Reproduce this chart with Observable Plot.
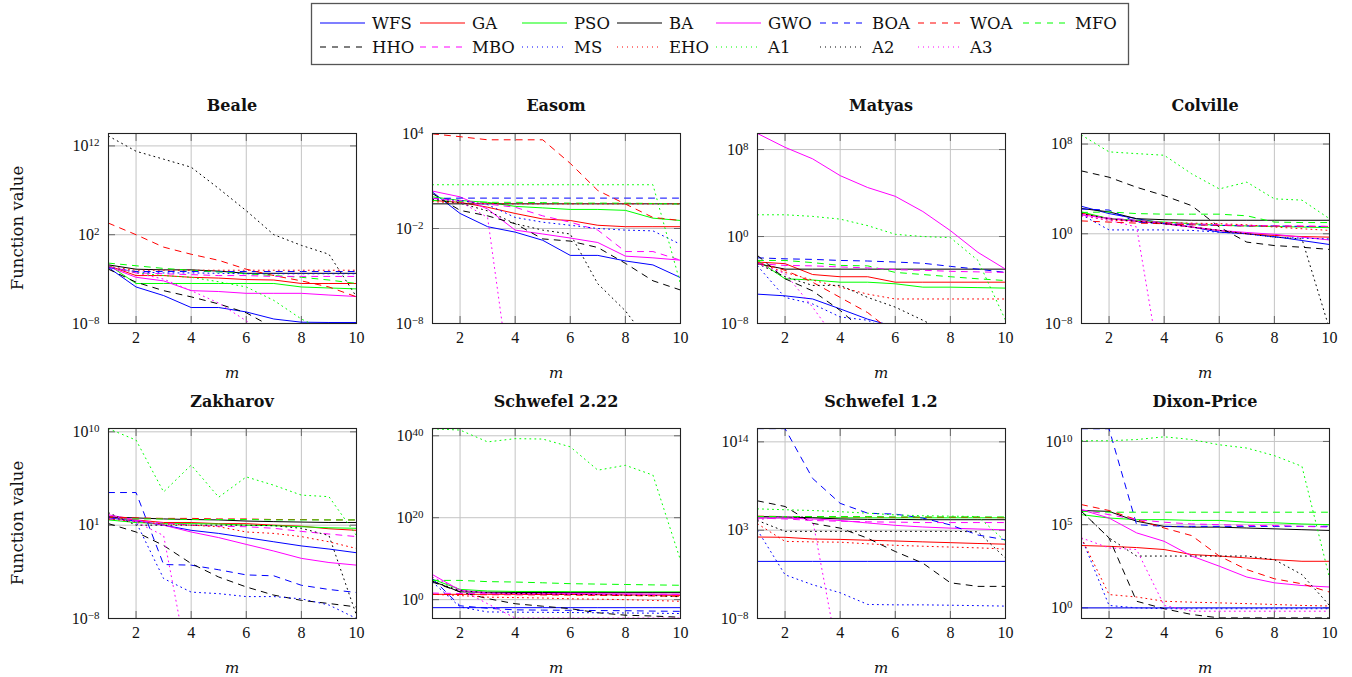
<!DOCTYPE html>
<html><head><meta charset="utf-8">
<script src="https://cdn.jsdelivr.net/npm/d3@7"></script>
<script src="https://cdn.jsdelivr.net/npm/@observablehq/plot@0.6"></script>
<style>
body{margin:0;background:#fff;}
#chart{position:relative;width:1352px;height:677px;overflow:hidden;font-family:"DejaVu Serif",serif;color:#111;}
#chart svg.panel{position:absolute;}
.title{position:absolute;font-weight:bold;font-size:16px;transform:translate(-50%,-50%);white-space:nowrap;}
.xlab{position:absolute;font-style:italic;font-size:15px;transform:translate(-50%,-50%);}
.ylab{position:absolute;font-size:16.5px;transform:translate(-50%,-50%) rotate(-90deg);white-space:nowrap;}
</style></head><body><div id="chart"></div>
<script>
// ---------------- data ----------------
const m = [1, 2, 3, 4, 5, 6, 7, 8, 9, 10];
const algorithms = ["WFS","GA","PSO","BA","GWO","BOA","WOA","MFO","HHO","MBO","MS","EHO","A1","A2","A3"];
const xTicks = [2, 4, 6, 8, 10];

// each panel: one array per algorithm, in the order of `algorithms`
const beale = [
  [2e-2,1.3e-4,1.4e-5,6.3e-7,6.3e-7,2e-7,3.2e-8,1.4e-8,1.3e-8,1.3e-8],
  [3.2e-2,2.5e-3,2.5e-3,1.6e-3,1.3e-3,8.9e-4,7.9e-4,3.2e-4,3.2e-4,3.2e-4],
  [4e-2,3.2e-4,3.2e-4,3.2e-4,3.2e-4,3.2e-4,3.2e-4,1.3e-4,1e-4,7.9e-5],
  [4e-2,1.3e-2,1.1e-2,1.1e-2,7.9e-3,4.5e-3,4.5e-3,4.5e-3,4.5e-3,4.5e-3],
  [2.5e-2,1.6e-3,6.3e-4,5e-5,4e-5,2.5e-5,2.5e-5,2.5e-5,1.6e-5,1.1e-5],
  [2e-2,7.1e-3,7.1e-3,7.1e-3,7.1e-3,7.1e-3,7.1e-3,7.1e-3,7.1e-3,7.1e-3],
  [2e3,1e2,4,0.63,0.13,1.3e-2,2.5e-3,6.3e-4,1.3e-4,1e-5],
  [6.3e-2,3.2e-2,1.6e-2,1e-2,6.3e-3,4e-3,2.5e-3,1.6e-3,7.9e-4,3.2e-4],
  [1.3e-2,4.5e-4,5e-5,1e-5,1.6e-6,1.6e-7,3.2e-9,1e-9,1e-9,1e-9],
  [2.5e-2,5e-3,4e-3,3.2e-3,2.5e-3,2.5e-3,2e-3,2e-3,2e-3,2e-3],
  [2.5e-2,6.3e-3,5e-3,5e-3,4.5e-3,4e-3,4e-3,4e-3,4e-3,4e-3],
  [2.5e-2,1e-2,1e-2,1e-2,1e-2,1e-2,1e-2,1e-2,1e-2,1e-2],
  [3.2e-2,5e-3,2.5e-3,1.6e-3,5e-4,1.3e-4,4e-6,3.2e-8,1e-9,1e-9],
  [1.3e13,2.5e11,3.2e10,4e9,1.6e7,5e4,1e2,6.3,0.63,1e-5],
  [3.2e-2,5e-3,1e-3,5e-5,2e-6,2e-8,1e-10,1e-10,1e-10,1e-10]
];
const easom = [
  [2,8.9e-2,1.3e-2,5.9e-3,1.8e-3,2e-4,2e-4,8.9e-5,5e-5,7.9e-6],
  [0.59,0.45,0.22,8.9e-2,4e-2,3.2e-2,1.6e-2,1.3e-2,1.3e-2,1.3e-2],
  [1,0.59,0.45,0.25,0.2,0.16,0.16,0.14,4.5e-2,3.2e-2],
  [0.36,0.36,0.36,0.36,0.36,0.36,0.36,0.36,0.36,0.36],
  [2.3,1,0.17,7.9e-3,4.5e-3,2.5e-3,1.3e-3,1.8e-4,1.4e-4,1e-4],
  [0.79,0.83,0.83,0.83,0.83,0.83,0.83,0.83,0.83,0.83],
  [9.5e3,6.3e3,4e3,4e3,4e3,1.3e2,2.5,0.35,5e-2,3.2e-2],
  [0.59,0.5,0.45,0.45,0.43,0.4,0.4,0.4,0.38,0.35],
  [1.6,0.14,6.3e-2,2e-2,2.2e-3,1.6e-3,6.3e-4,6.3e-5,5e-6,1.3e-6],
  [0.79,0.59,0.35,0.22,6.3e-2,2.5e-2,7.9e-3,3.5e-4,3.5e-4,1e-4],
  [0.71,0.59,0.32,5e-2,2.5e-2,1.6e-2,1e-2,7.9e-3,7.1e-3,1e-3],
  [0.5,0.4,0.38,0.36,0.36,0.36,0.36,0.36,0.36,0.36],
  [5.8,5.8,5.8,5.8,5.8,5.8,5.8,5.8,5.8,3.2e-6],
  [0.71,0.4,0.13,2e-2,7.9e-3,4.5e-3,3.2e-6,6.3e-8,3.2e-10,1e-10],
  [0.79,0.5,5e-2,1e-14,1e-14,1e-14,1e-14,1e-14,1e-14,1e-14]
];
const matyas = [
  [5e-6,3.5e-6,1.8e-6,2.2e-7,2.5e-8,5e-9,1e-9,1e-9,1e-9,1e-9],
  [4.5e-3,3.2e-3,3.2e-4,2e-4,2e-4,6.3e-5,6.3e-5,6.3e-5,6.3e-5,6.3e-5],
  [6.3e-3,1.3e-4,1e-4,6.3e-5,6.3e-5,4.5e-5,2.2e-5,2.2e-5,2e-5,1.8e-5],
  [3.2e-3,1e-3,1e-3,1e-3,1e-3,1e-3,1e-3,1e-3,1e-3,1e-3],
  [3e9,1.6e8,1.4e7,4e5,3.2e4,5e3,2e2,3.5,3.5e-2,1e-3],
  [1.1e-2,8.9e-3,7.9e-3,6.3e-3,5.6e-3,4.5e-3,3.5e-3,1.8e-3,1e-3,5e-4],
  [4e-3,7.9e-4,6.3e-5,2.5e-6,1e-7,1e-9,1e-10,1e-10,1e-10,1e-10],
  [6.3e-3,6.3e-3,4e-3,2.2e-3,2e-3,5e-4,3.2e-4,2e-4,1.3e-4,8.9e-5],
  [1.8e-2,1.3e-4,1e-5,1.6e-7,1e-9,1e-10,1e-10,1e-10,1e-10,1e-10],
  [3.2e-3,2.2e-3,2e-3,1.6e-3,1.3e-3,8.9e-4,7.9e-4,6.3e-4,5.6e-4,5e-4],
  [2e-3,2.5e-6,6.3e-7,4e-8,2e-8,1e-9,1e-10,1e-10,1e-10,1e-10],
  [4e-3,5e-4,1e-4,2.2e-5,5e-6,1.8e-6,1.8e-6,1.8e-6,1.8e-6,1.8e-6],
  [100,100,71,40,10,1.6,1,0.79,6.3e-3,2e-8],
  [3.2e-3,2e-4,3.2e-5,3.2e-5,2.5e-6,3.2e-7,2e-8,1e-9,1e-10,1e-10],
  [3.2e-3,4e-4,3.2e-7,1e-10,1e-10,1e-10,1e-10,1e-10,1e-10,1e-10]
];
const colville = [
  [280,63,22,8.9,4,1.4,1,0.56,0.25,0.11],
  [71,22,13,7.9,4,2,1,0.71,0.56,0.5],
  [89,22,16,11,7.9,5.6,5,4.5,4,3.5],
  [180,89,22,18,16,16,16,16,16,16],
  [50,22,13,7.9,4,2,1.3,0.89,0.5,0.28],
  [160,130,11,7.9,6.3,5.6,5,5,4.5,4.5],
  [14,11,8.9,7.9,6.3,5.6,5,5,4.5,4.5],
  [79,89,63,56,56,56,40,11,10,10],
  [4e5,1.1e5,1.4e4,2.5e3,320,4,0.18,8.9e-2,6.3e-2,4e-2],
  [50,25,16,10,7.9,6.3,5.6,5,5,4.5],
  [50,2.2,2.2,2.2,2,1.4,1,0.5,0.4,0.35],
  [40,16,13,10,8.9,7.9,6.3,4,2.8,2],
  [6.3e8,2e7,1.4e7,1e7,2.2e5,1e4,4e4,1.3e3,1e3,22],
  [63,22,13,7.9,4,2,1,0.5,0.35,3.2e-9],
  [40,16,4,1e-14,1e-14,1e-14,1e-14,1e-14,1e-14,1e-14]
];
const zakharov = [
  [50,25,10,3.2,1.6,0.63,0.25,0.1,5e-2,2.2e-2],
  [63,32,18,18,14,14,10,7.9,4.5,3.2],
  [32,18,14,14,13,10,8.9,7.1,5.6,5],
  [63,50,40,35,32,25,22,20,18,18],
  [100,32,10,2.2,0.63,0.14,3.2e-2,6.3e-3,2.5e-3,1.4e-3],
  [1.4e4,1.4e4,1.6e-3,1.4e-3,5e-4,1.6e-4,1.3e-4,1.6e-5,6.3e-6,3.2e-6],
  [63,50,45,45,40,40,35,35,32,32],
  [35,40,40,35,35,35,32,32,32,32],
  [14,2.2,0.11,2e-3,1e-4,1.1e-5,1.8e-6,5.6e-7,2.8e-7,1.3e-7],
  [40,25,16,10,7.9,7.1,5,2.5,1.4,0.79],
  [63,20,7.1e-5,3.5e-6,2.5e-6,1.3e-6,1.3e-6,7.9e-7,2e-7,1e-8],
  [40,22,13,10,7.1,2.2,1.6,0.79,0.25,5.6e-2],
  [2e10,1.6e9,1.6e4,6.3e6,5e3,4.5e5,7.1e4,7.9e3,5.6e3,1],
  [160,10,10,10,10,10,8.9,5,1,2e-8],
  [100,20,1,1e-14,1e-14,1e-14,1e-14,1e-14,1e-14,1e-14]
];
const schwefel222 = [
  [1.1e-2,1.1e-2,1.1e-2,1.1e-2,1.1e-2,1.1e-2,1.1e-2,1.1e-2,1.1e-2,1.1e-2],
  [20,20,20,20,18,18,16,14,13,11],
  [1e5,320,130,100,100,89,89,79,79,79],
  [3.2e4,79,63,56,56,50,50,50,50,50],
  [1.3e6,200,40,32,32,32,28,25,22,20],
  [1.3e5,3.2e-2,7.9e-3,3.2e-3,2.8e-3,2.5e-3,2.2e-3,2e-3,1.6e-3,1.4e-3],
  [20,18,16,16,14,13,11,10,7.9,6.3],
  [5e4,5e4,2.5e4,2e4,1.3e4,7.9e3,6.3e3,5e3,4e3,3.2e3],
  [2e4,79,1.8,0.1,2.5e-2,6.3e-3,6.3e-4,1.6e-4,1e-4,5e-5],
  [40,32,28,25,25,22,22,20,20,20],
  [2e4,1.6e-2,1e-3,8.9e-4,7.9e-4,7.1e-4,6.3e-4,5.6e-4,5e-4,4e-4],
  [20,10,4,3.2,2.5,1.6,1.3,1,0.63,0.4],
  [5e41,2.5e41,3.2e38,2e39,1.6e39,2e37,4e31,6.3e32,2.5e30,4e9],
  [3.2e4,160,50,32,25,20,16,13,10,5],
  [3.2e5,320,0.1,3.2e-5,3.2e-5,3.2e-5,3.2e-5,3.2e-5,3.2e-5,3.2e-5]
];
const schwefel12 = [
  [0.13,0.13,0.13,0.13,0.13,0.13,0.13,0.13,0.13,0.13],
  [140,130,79,71,56,45,35,28,22,18],
  [3.5e4,3.5e4,3.5e4,3.5e4,3.5e4,3.5e4,3.5e4,3.5e4,3.5e4,3.5e4],
  [5e4,4.5e4,3.5e4,2.5e4,2.2e4,2.2e4,2e4,2e4,2e4,2e4],
  [3.5e4,3.2e4,2.5e4,1.6e4,7.9e3,4e3,2.5e3,1.8e3,1.4e3,1.1e3],
  [4.4e15,4.4e15,2.8e9,2.2e6,1.3e5,1e5,3.2e4,4.5e3,250,63],
  [5.6e4,5e4,5e4,4.5e4,4.5e4,4e4,4e4,4e4,4e4,3.5e4],
  [5e4,5e4,5e4,5e4,5e4,4.5e4,4.5e4,4.5e4,4.5e4,4.5e4],
  [4.5e6,8.9e5,7.1e3,1.8e3,100,2.2,7.9e-2,2.8e-4,1e-4,1e-4],
  [3.2e4,2.5e4,1.6e4,1.3e4,1.1e4,1e4,8.9e3,8.9e3,8.9e3,8.9e3],
  [1e3,2.8e-3,1.6e-4,1.6e-5,5.6e-7,5e-7,5e-7,4.5e-7,4e-7,3.5e-7],
  [6.3e3,40,35,32,20,13,10,7.9,6.3,4.5],
  [4.5e5,3.5e5,2.8e5,2e5,1.3e5,7.9e4,6.3e4,5.6e4,5e4,40],
  [1.6e4,710,710,710,710,710,710,710,630,0.32],
  [2e4,5e4,2e4,1e-14,1e-14,1e-14,1e-14,1e-14,1e-14,1e-14]
];
const dixonPrice = [
  [1,1,1,1,1,1,1,1,1,1],
  [5.6e3,5e3,4.2e3,3.2e3,1.6e3,1.3e3,1e3,790,630,630],
  [4e5,2.5e5,2e5,2e5,1.8e5,1.8e5,1.4e5,1.3e5,1.1e5,1e5],
  [7.1e5,6.3e5,1.6e5,7.9e4,7.1e4,7.1e4,6.3e4,5.6e4,5e4,4.5e4],
  [7.9e5,2.5e5,3.2e4,1e4,1.3e3,320,71,32,22,18],
  [5.8e10,5.8e10,1e5,7.9e4,7.9e4,7.9e4,7.9e4,7.9e4,7.9e4,7.9e4],
  [1.6e6,7.1e5,2e5,6.3e4,2.2e4,1.3e3,200,56,28,8.9],
  [6.3e5,5.6e5,5.6e5,5.6e5,5.6e5,5.6e5,5.6e5,5.6e5,5.6e5,5.6e5],
  [6.3e5,1.6e4,2.5,0.89,0.4,0.25,0.25,0.25,0.25,0.25],
  [7.9e5,4e5,2e5,1.4e5,1.1e5,1e5,8.9e4,8.9e4,7.9e4,7.1e4],
  [1.6e4,1.4,1,0.89,0.89,0.89,0.89,0.89,0.89,0.89],
  [1.6e4,6.3,4.5,2.5,2.2,2,1.8,1.6,1.4,1.3],
  [1.1e10,1.1e10,1.3e10,1.9e10,1.3e10,6.3e9,4e9,1.4e9,3.2e8,63],
  [6.3e5,1.6e4,1.3e3,1.3e3,1.3e3,1.3e3,1.3e3,790,100,1.4],
  [1.6e4,4e3,3.2e3,1.4,0.63,0.63,0.63,0.63,0.63,0.63]
];

const titles = ["Beale","Easom","Matyas","Colville","Zakharov","Schwefel 2.22","Schwefel 1.2","Dixon-Price"];
const panelData = [beale, easom, matyas, colville, zakharov, schwefel222, schwefel12, dixonPrice];
const yDomains = [[1e-8,2.5e13],[1e-8,1e4],[1e-8,3e9],[1e-8,8.7e8],[1e-8,2.1e10],[2.5e-5,6e41],[1e-8,4.6e15],[0.23,6e10]];
const yTicks = [[1e-8,1e2,1e12],[1e-8,1e-2,1e4],[1e-8,1,1e8],[1e-8,1,1e8],[1e-8,10,1e10],[1,1e20,1e40],[1e-8,1e3,1e14],[1,1e5,1e10]];

// ---------------- styles / layout ----------------
const colors = ["#0000ff","#ff0000","#00ff00","#000000","#ff00ff"];
const strokeOf = i => colors[i % 5];
const dashOf = i => i < 5 ? null : (i < 10 ? "6,6" : "1,4");
const frameLefts = [108, 432, 757, 1081];
const frameTops = [133, 428];
const W = 248, H = 190, ML = 60, MR = 12, MT = 10, MB = 32;
const tickFont = "'Liberation Serif', 'Times New Roman', serif";

const chart = document.getElementById("chart");
const fmt = d => "10^" + String(Math.round(Math.log10(d))).replace("-", "\u2212");

function addDiv(cls, text, x, y) {
  const d = document.createElement("div");
  d.className = cls; d.textContent = text;
  d.style.left = x + "px"; d.style.top = y + "px";
  chart.appendChild(d);
}

panelData.forEach((data, p) => {
  const col = p % 4, row = Math.floor(p / 4);
  const fx = frameLefts[col], fy = frameTops[row];
  const ticks = yTicks[p];
  const lines = algorithms.map((name, s) =>
    Plot.line(m.map((x, i) => ({m: x, v: data[s][i], name})), {
      x: "m", y: "v", stroke: strokeOf(s), strokeWidth: 1,
      strokeDasharray: dashOf(s), clip: true
    })
  );
  const noText = () => "";
  const svg = Plot.plot({
    width: ML + W + MR, height: MT + H + MB,
    marginLeft: ML, marginRight: MR, marginTop: MT, marginBottom: MB,
    style: {background: "transparent", overflow: "visible", color: "#111", maxWidth: "none"},
    x: {domain: [1, 10]},
    y: {type: "log", domain: yDomains[p]},
    marks: [
      Plot.gridX(xTicks, {stroke: "#c4c4c4", strokeOpacity: 1}),
      Plot.gridY(ticks, {stroke: "#c4c4c4", strokeOpacity: 1}),
      Plot.axisX(xTicks, {anchor: "bottom", tickSize: -7, tickFormat: noText, label: null, stroke: "#666"}),
      Plot.axisX(xTicks, {anchor: "top", tickSize: -7, tickFormat: noText, label: null, stroke: "#666"}),
      Plot.axisY(ticks, {anchor: "left", tickSize: -7, tickFormat: noText, label: null, stroke: "#666"}),
      Plot.axisY(ticks, {anchor: "right", tickSize: -7, tickFormat: noText, label: null, stroke: "#666"}),
      Plot.axisX(xTicks, {anchor: "bottom", tickSize: 0, tickPadding: 8, label: null, fontSize: 16, fontFamily: tickFont, fill: "#111"}),
      Plot.axisY(ticks, {anchor: "left", tickSize: 0, tickPadding: 9, label: null, tickFormat: fmt, fontSize: 16, fontFamily: tickFont, fill: "#111"}),
      ...lines,
      Plot.frame({stroke: "#222", strokeWidth: 1.1})
    ]
  });
  svg.classList.add("panel");
  svg.style.left = (fx - ML) + "px";
  svg.style.top = (fy - MT) + "px";
  d3.select(svg).selectAll("text").each(function () {
    const t = this.textContent;
    if (t === "") return;
    this.setAttribute("font-family", tickFont);
    this.setAttribute("font-size", "16");
    this.style.fontFamily = tickFont;
    this.style.fontSize = "16px";
    const mt = /^10\^(.+)$/.exec(t);
    if (!mt) return;
    const sel = d3.select(this);
    sel.text("");
    sel.append("tspan").text("10");
    sel.append("tspan").attr("dy", "-0.45em").style("font-size", "11px").text(mt[1]);
  });
  chart.appendChild(svg);
  addDiv("title", titles[p], fx + W / 2, row === 0 ? 105 : 401);
  addDiv("xlab", "m", fx + W / 2, row === 0 ? 373 : 668);
  if (col === 0) addDiv("ylab", "Function value", 17, fy + H / 2);
});

// ---------------- legend ----------------
const legendCols = [320, 420, 522, 617, 716, 820, 918, 1023];
const legendRows = [23, 47];
const lg = d3.create("svg").attr("width", 1352).attr("height", 70)
  .style("position", "absolute").style("left", "0px").style("top", "0px");
lg.append("rect").attr("x", 311.5).attr("y", 3.5).attr("width", 817).attr("height", 61)
  .attr("fill", "#fff").attr("stroke", "#555").attr("stroke-width", 1.3);
algorithms.forEach((name, i) => {
  const c = i < 8 ? i : i - 8, r = i < 8 ? 0 : 1;
  const x0 = legendCols[c], y0 = legendRows[r];
  lg.append("line").attr("x1", x0).attr("x2", x0 + 45).attr("y1", y0).attr("y2", y0)
    .attr("stroke", strokeOf(i)).attr("stroke-width", 1.1)
    .attr("stroke-dasharray", dashOf(i));
  lg.append("text").attr("x", x0 + 52).attr("y", y0).attr("dy", "0.36em")
    .attr("font-family", "'DejaVu Serif', serif").attr("font-size", 16.5).attr("fill", "#111")
    .text(name);
});
chart.appendChild(lg.node());
</script>
</body></html>
